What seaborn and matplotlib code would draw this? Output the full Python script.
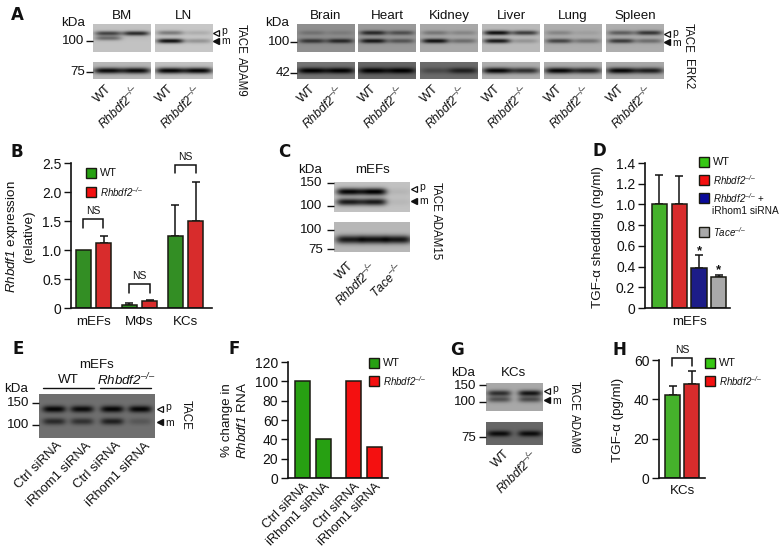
import numpy as np
import pandas as pd
import seaborn as sns
import matplotlib.pyplot as plt
from matplotlib.patches import Rectangle

W, H = 782, 551
GREEN_DARK = '#27a012'
GREEN = '#37c814'
RED = '#f41010'
BLUE = '#0a0a9a'
GRAY = '#a9a9a9'
EDGE = '#1a1a12'
FS = 9.6

# panel B
B_CELLS = ['mEFs', 'MΦs', 'KCs']
B_WT = [1.0, 0.06, 1.24]
B_WT_TOP = [1.0, 0.08, 1.78]
B_KO = [1.12, 0.12, 1.50]
B_KO_TOP = [1.24, 0.13, 2.17]

# panel D
D_GROUPS = ['WT', 'KO', 'KO + siRNA', 'Tace']
D_VALUES = [1.0, 1.0, 0.39, 0.30]
D_TOP = [1.28, 1.275, 0.51, 0.315]

# panel F
F_GENOTYPES = ['WT', 'WT', 'KO', 'KO']
F_SIRNA = ['Ctrl siRNA', 'iRhom1 siRNA', 'Ctrl siRNA', 'iRhom1 siRNA']
F_VALUES = [100, 40, 100, 32]

# panel H
H_GROUPS = ['WT', 'KO']
H_VALUES = [42, 48]
H_TOP = [47, 54.5]

# blots, panel A: left, right, background, then (p, m) darkness for each lane
A_NAMES = ['BM', 'LN', 'Brain', 'Heart', 'Kidney', 'Liver', 'Lung', 'Spleen']
A_LEFT = [93, 155, 297, 358, 420, 482, 544, 606]
A_BG = [0.76, 0.78, 0.56, 0.60, 0.66, 0.73, 0.68, 0.68]
A_P = [[0.50, 0.60], [0.30, 0.10], [0.12, 0.08], [0.45, 0.30], [0.20, 0.14], [0.68, 0.50], [0.16, 0.06], [0.32, 0.48]]
A_M = [[0.34, 0.02], [0.72, 0.20], [0.36, 0.42], [0.52, 0.28], [0.60, 0.24], [0.64, 0.15], [0.42, 0.24], [0.46, 0.26]]
A_LOAD_BG = [0.72, 0.76, 0.46, 0.40, 0.42, 0.68, 0.68, 0.66]
A_LOAD = [[0.68, 0.68], [0.74, 0.74], [0.46, 0.46], [0.40, 0.40], [0.14, 0.30], [0.66, 0.50], [0.66, 0.55], [0.64, 0.55]]

sns.set_theme(style="ticks")
plt.rcParams['mathtext.fontset'] = 'custom'
plt.rcParams['mathtext.rm'] = 'Liberation Sans'
plt.rcParams['mathtext.it'] = 'Liberation Sans:italic'
plt.rcParams['mathtext.cal'] = 'Liberation Sans:italic'
plt.rcParams['font.family'] = ['Liberation Sans', 'DejaVu Sans']
plt.rcParams['text.color'] = '#111111'
plt.rcParams['axes.labelcolor'] = '#111111'

KO = '$\\mathcal{Rhbdf2}^{\\mathcal{\u2013/\u2013}}$'
TACE_KO = '$\\mathcal{Tace}^{\\mathcal{\u2013/\u2013}}$'
RHBDF1 = r'$\mathcal{Rhbdf1}$'
fig = plt.figure(figsize=(W / 100, H / 100), dpi=100)


def axes_px(left, top, right, bottom):
    return fig.add_axes([left / W, 1 - bottom / H, (right - left) / W, (bottom - top) / H])


ov = fig.add_axes([0, 0, 1, 1], zorder=5)
ov.patch.set_alpha(0)
ov.axis('off')


def blot(left, top, right, bottom, bg, lanes, ys, darks, sig=2.3, lane_w=0.23):
    h, w = (bottom - top) * 3, (right - left) * 3
    yy, xx = np.mgrid[0:h, 0:w]
    xx = xx / w
    yy = yy / h
    img = np.full((h, w), bg, dtype=float)
    for cx, row in zip(lanes, darks):
        for y0, d in zip(ys, row):
            band = np.exp(-((xx - cx) / lane_w) ** 4) * np.exp(-(((yy - y0) * (bottom - top)) / sig) ** 2)
            img -= d * band
    ov.imshow(np.clip(img, 0, 1), cmap='gray', vmin=0, vmax=1, aspect='auto',
              extent=(left, right, bottom, top), interpolation='bilinear')


def txt(x, y, s, size=FS, **kw):
    kw.setdefault('ha', 'center')
    kw.setdefault('va', 'center')
    ov.text(x, y, s, fontsize=size, **kw)


def letter(x, y, s):
    txt(x, y, s, 12, fontweight='bold', ha='left', family='DejaVu Sans')


def slanted(x, y, s, size=8.8):
    ov.text(x, y, s, fontsize=size, rotation=45, ha='right', va='top', rotation_mode='anchor')


def tick(x0, x1, y):
    ov.plot([x0, x1], [y, y], color='#111111', lw=1.0, solid_capstyle='butt')


def arrows(x, yp, ym, size=7.5):
    ov.plot([x], [yp], marker='<', ms=4, mfc='white', mec='#111111', mew=0.9, ls='none')
    ov.plot([x], [ym], marker='<', ms=4.6, color='#111111', ls='none')
    txt(x + 5, yp - 1.5, 'p', size, ha='left')
    txt(x + 5, ym + 0.5, 'm', size, ha='left')


def bracket(x0, x1, top, bottom, label='NS'):
    ov.plot([x0, x0, x1, x1], [bottom, top, top, bottom], color='#111111', lw=1.1, solid_joinstyle='miter')
    txt((x0 + x1) / 2, top - 8, label, 7.5)


def swatches(x, y, color, label, size=7.8):
    ov.add_patch(Rectangle((x, y - 5), 10, 10, fc=color, ec=EDGE, lw=1.0))
    txt(x + 14, y, label, size, ha='left')


def style_bars(ax, ymax, yticks, ylabels, tick_size=10):
    ax.set_ylim(0, ymax)
    ax.set_yticks(yticks, ylabels)
    ax.set_xlabel('')
    ax.set_ylabel('')
    ax.patch.set_alpha(0)
    ax.tick_params(axis='y', length=5, width=1.0, labelsize=tick_size, pad=2, color='#111111', labelcolor='#111111')
    ax.tick_params(axis='x', length=0, labelcolor='#111111')
    sns.despine(ax=ax)
    for side in ('left', 'bottom'):
        ax.spines[side].set_linewidth(1.2)
        ax.spines[side].set_color('#111111')


def add_errors(ax, bars, tops):
    for bar, top in zip(bars, tops):
        x = bar.get_x() + bar.get_width() / 2
        val = bar.get_height()
        if top > val:
            ax.errorbar(x, val, yerr=[[0], [top - val]], color='#111111', lw=1.1, capsize=3, capthick=1.1, zorder=1)


# panel A blots
for i, name in enumerate(A_NAMES):
    left = A_LEFT[i]
    right = left + 58
    ys = [0.31, 0.60] if i != 0 else [0.33, 0.50]
    blot(left, 24, right, 52, A_BG[i], [0.26, 0.74], ys, list(zip(A_P[i], A_M[i])))
    lows = [(d,) for d in A_LOAD[i]]
    blot(left, 62, right, 79, A_LOAD_BG[i], [0.26, 0.74], [0.5], lows, sig=3.0, lane_w=0.25)
    txt((left + right) / 2, 16, name, FS)
    slanted(left + 13, 83, 'WT', 9.2)
    slanted(left + 39, 83, KO)

letter(11, 15, 'A')
txt(73, 23, 'kDa')
txt(277, 23, 'kDa')
txt(73, 41, '100')
tick(86, 93, 41)
txt(78, 72, '75')
tick(86, 93, 72)
txt(279, 42, '100')
tick(290, 297, 42)
txt(283, 73, '42')
tick(290, 297, 73)
arrows(216, 33, 41)
arrows(667, 34, 42)
txt(241, 24, 'TACE', 8.3, rotation=-90, va='top')
txt(241, 57, 'ADAM9', 8.3, rotation=-90, va='top')
txt(688, 23, 'TACE', 8.3, rotation=-90, va='top')
txt(688, 59, 'ERK2', 8.3, rotation=-90, va='top')

# panel B
b_df = pd.DataFrame({
    'cell': B_CELLS * 2,
    'value': B_WT + B_KO,
    'genotype': ['WT'] * 3 + ['KO'] * 3,
})
ax_b = axes_px(71, 163, 212, 308)
sns.barplot(data=b_df, x='cell', y='value', hue='genotype', palette=[GREEN_DARK, RED], ax=ax_b,
            width=0.89, gap=0.27, edgecolor=EDGE, linewidth=1.1, legend=False, zorder=2)
style_bars(ax_b, 2.5, [0, 0.5, 1, 1.5, 2, 2.5], ['0', '0.5', '1.0', '1.5', '2.0', '2.5'])
add_errors(ax_b, ax_b.containers[0], B_WT_TOP)
add_errors(ax_b, ax_b.containers[1], B_KO_TOP)
ax_b.set_xlim(-0.489, 2.576)
ax_b.tick_params(axis='x', labelsize=FS, pad=6)
txt(12, 237, RHBDF1 + ' expression', FS, rotation=90)
txt(29, 237, '(relative)', FS, rotation=90)
letter(11, 152, 'B')
swatches(86, 173, GREEN_DARK, 'WT')
swatches(86, 192, RED, KO, 7)
bracket(83, 103, 219, 228)
bracket(129, 150, 284, 293)
bracket(175, 196, 165, 173)

# panel C
blot(334, 182, 410, 212, 0.76, [0.2, 0.52, 0.84], [0.32, 0.66], [(0.74, 0.66), (0.76, 0.66), (0.05, 0.04)], sig=3.6, lane_w=0.17)
blot(334, 222, 410, 252, 0.72, [0.2, 0.52, 0.84], [0.58], [(0.62,), (0.66,), (0.64,)], sig=4.2, lane_w=0.18)
letter(278, 152, 'C')
txt(310, 170, 'kDa')
txt(373, 170, 'mEFs')
txt(311, 183, '150')
tick(327, 334, 183)
txt(311, 206, '100')
tick(327, 334, 206)
txt(311, 230, '100')
tick(327, 334, 230)
txt(316, 250, '75')
tick(327, 334, 249)
arrows(414, 189, 201)
txt(436, 182, 'TACE', 8.3, rotation=-90, va='top')
txt(436, 214, 'ADAM15', 8.3, rotation=-90, va='top')
slanted(348, 260, 'WT', 9.2)
slanted(369, 260, KO)
slanted(396, 260, TACE_KO)

# panel D
d_df = pd.DataFrame({'group': D_GROUPS, 'value': D_VALUES})
ax_d = axes_px(645, 163, 730, 308)
sns.barplot(data=d_df, x='group', y='value', hue='group', palette=[GREEN, RED, BLUE, GRAY], ax=ax_d,
            width=0.78, edgecolor=EDGE, linewidth=1.1, legend=False, zorder=2)
style_bars(ax_d, 1.4, [0, 0.2, 0.4, 0.6, 0.8, 1.0, 1.2, 1.4], ['0', '0.2', '0.4', '0.6', '0.8', '1.0', '1.2', '1.4'])
add_errors(ax_d, [c[0] for c in ax_d.containers], D_TOP)
ax_d.set_xlim(-0.736, 3.58)
ax_d.set_xticks([1.5], ['mEFs'], fontsize=FS)
ax_d.tick_params(axis='x', pad=6)
txt(598, 237, 'TGF-α shedding (ng/ml)', FS, rotation=90)
letter(592, 151, 'D')
swatches(699, 162, GREEN, 'WT')
swatches(699, 180, RED, KO, 7)
swatches(699, 198, BLUE, KO + ' +', 7)
txt(712, 211, 'iRhom1 siRNA', 7.3, ha='left')
swatches(699, 232, GRAY, TACE_KO, 7)
txt(699, 251, '*', 9.5, fontweight='bold')
txt(718, 270, '*', 9.5, fontweight='bold')

# panel E
blot(39, 394, 155, 438, 0.44, [0.13, 0.37, 0.63, 0.87], [0.34, 0.62],
     [(0.42, 0.28), (0.40, 0.25), (0.42, 0.32), (0.42, 0.10)], sig=3.4, lane_w=0.10)
letter(12, 349, 'E')
txt(97, 365, 'mEFs')
txt(68, 380, 'WT')
txt(126, 380, KO)
ov.plot([43, 94], [388, 388], color='#111111', lw=1.0)
ov.plot([100, 151], [388, 388], color='#111111', lw=1.0)
txt(16, 389, 'kDa')
txt(18, 403, '150')
tick(32, 39, 403)
txt(18, 425, '100')
tick(32, 39, 425)
arrows(160, 409, 422)
txt(186, 400, 'TACE', 8.3, rotation=-90, va='top')
for x, lab in zip([56, 85, 115, 144], F_SIRNA):
    slanted(x, 440, lab, 9.4)

# panel F
f_df = pd.DataFrame({'genotype': F_GENOTYPES, 'sirna': F_SIRNA, 'value': F_VALUES})
ax_f = axes_px(288, 362, 388, 478)
sns.barplot(data=f_df, x='genotype', y='value', hue='sirna', ax=ax_f, width=0.82, gap=0.29,
            palette=[GREEN_DARK, GREEN_DARK], edgecolor=EDGE, linewidth=1.1, legend=False, zorder=2)
style_bars(ax_f, 120, [0, 20, 40, 60, 80, 100, 120], ['0', '20', '40', '60', '80', '100', '120'])
f_bars = [ax_f.containers[0][0], ax_f.containers[1][0], ax_f.containers[0][1], ax_f.containers[1][1]]
for bar, color in zip(f_bars, [GREEN_DARK, GREEN_DARK, RED, RED]):
    bar.set_facecolor(color)
ax_f.set_xlim(-0.495, 1.466)
ax_f.set_xticks([b.get_x() + b.get_width() / 2 for b in f_bars], F_SIRNA, rotation=45, ha='right',
                rotation_mode='anchor', fontsize=9.2)
ax_f.tick_params(axis='x', pad=2)
txt(227, 420, '% change in', FS, rotation=90)
txt(243, 420, RHBDF1 + ' RNA', FS, rotation=90)
letter(229, 349, 'F')
swatches(369, 363, GREEN_DARK, 'WT')
swatches(369, 381, RED, KO, 7)

# panel G
blot(486, 383, 543, 411, 0.66, [0.23, 0.77], [0.36, 0.58], [(0.48, 0.34), (0.58, 0.36)], sig=3.0, lane_w=0.21)
blot(486, 422, 543, 445, 0.40, [0.23, 0.77], [0.5], [(0.36,), (0.36,)], sig=3.0, lane_w=0.21)
letter(450, 350, 'G')
txt(463, 373, 'kDa')
txt(514, 373, 'KCs')
txt(465, 386, '150')
tick(479, 486, 385)
txt(465, 402, '100')
tick(479, 486, 402)
txt(469, 438, '75')
tick(479, 486, 437)
arrows(547, 391, 400)
txt(574, 381, 'TACE', 8.3, rotation=-90, va='top')
txt(574, 414, 'ADAM9', 8.3, rotation=-90, va='top')
slanted(504, 448, 'WT', 9.2)
slanted(530, 448, KO)

# panel H
h_df = pd.DataFrame({'group': H_GROUPS, 'value': H_VALUES})
ax_h = axes_px(659, 360, 705, 478)
sns.barplot(data=h_df, x='group', y='value', hue='group', palette=[GREEN, RED], ax=ax_h,
            width=0.78, edgecolor=EDGE, linewidth=1.1, legend=False, zorder=2)
style_bars(ax_h, 60, [0, 20, 40, 60], ['0', '20', '40', '60'])
add_errors(ax_h, [c[0] for c in ax_h.containers], H_TOP)
ax_h.set_xlim(-0.7, 1.68)
ax_h.set_xticks([0.5], ['KCs'], fontsize=FS)
ax_h.tick_params(axis='x', pad=5)
txt(618, 420, 'TGF-α (pg/ml)', FS, rotation=90)
letter(612, 350, 'H')
swatches(705, 363, GREEN, 'WT')
swatches(705, 381, RED, KO, 7)
bracket(672, 692, 358, 366)

ov.set_xlim(0, W)
ov.set_ylim(H, 0)
fig.savefig('out.png', dpi=100)
